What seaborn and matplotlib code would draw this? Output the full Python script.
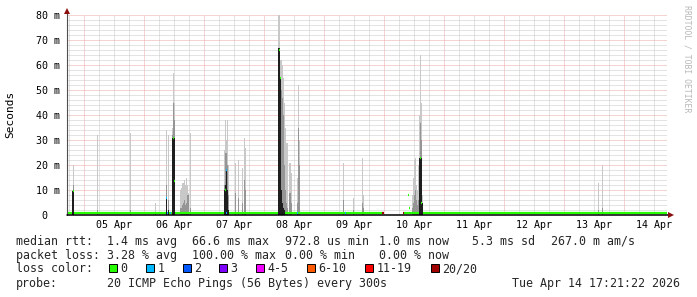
import numpy as np
import pandas as pd
import matplotlib
matplotlib.use("Agg")
import matplotlib.pyplot as plt
import matplotlib.dates as mdates
from matplotlib.patches import Rectangle
from matplotlib.lines import Line2D
import seaborn as sns

# ---------------- data ----------------
range_start = "2026-04-04 17:21"
range_end = "2026-04-14 17:21"
step_minutes = 24  # one consolidated rrd step

smoke_times = [
    "2026-04-04 19:21", "2026-04-04 19:45",
    "2026-04-05 05:21", "2026-04-05 18:33",
    "2026-04-06 04:33", "2026-04-06 08:57", "2026-04-06 09:45",
    "2026-04-06 11:21", "2026-04-06 11:45", "2026-04-06 12:09",
    "2026-04-06 14:33", "2026-04-06 14:57", "2026-04-06 15:21", "2026-04-06 15:45",
    "2026-04-06 16:09", "2026-04-06 16:33", "2026-04-06 16:57", "2026-04-06 17:21",
    "2026-04-06 17:45", "2026-04-06 18:33",
    "2026-04-07 08:09", "2026-04-07 08:33", "2026-04-07 08:57", "2026-04-07 09:21",
    "2026-04-07 09:45", "2026-04-07 12:33", "2026-04-07 13:45", "2026-04-07 15:21",
    "2026-04-07 16:09", "2026-04-07 16:33",
    "2026-04-08 05:45", "2026-04-08 06:09", "2026-04-08 06:33", "2026-04-08 06:57",
    "2026-04-08 07:21", "2026-04-08 07:45", "2026-04-08 08:09", "2026-04-08 08:33",
    "2026-04-08 08:57", "2026-04-08 09:21", "2026-04-08 10:09", "2026-04-08 10:33",
    "2026-04-08 10:57", "2026-04-08 13:21", "2026-04-08 13:45", "2026-04-08 14:09",
    "2026-04-09 07:45", "2026-04-09 11:45", "2026-04-09 15:21", "2026-04-09 15:45",
    "2026-04-10 09:09", "2026-04-10 09:33", "2026-04-10 09:57", "2026-04-10 10:21",
    "2026-04-10 11:21", "2026-04-10 11:45", "2026-04-10 12:09", "2026-04-10 12:33",
    "2026-04-10 12:57", "2026-04-10 13:21", "2026-04-10 13:45",
    "2026-04-10 14:09", "2026-04-10 14:33", "2026-04-10 14:57", "2026-04-10 15:21",
    "2026-04-13 13:45", "2026-04-13 15:21",
]
smoke_max = [
    10, 20,
    32, 33,
    5, 34, 32,
    35, 57, 45,
    10, 11, 13, 13,
    14, 12, 15, 12,
    9, 33,
    26, 38, 30, 38,
    20, 21, 22, 19,
    31, 27,
    80, 80, 62, 62,
    60, 55, 45, 35,
    29, 29, 21, 21,
    17, 15, 52, 30,
    21, 7, 23, 8,
    32, 15, 12, 5,
    8, 15, 22, 23,
    12, 10, 20,
    40, 64, 45, 8,
    13, 20,
]
smoke_mid = [
    9.6, 12,
    2, 2,
    1, 12, 6,
    32, 45, 38,
    3, 3, 4, 5,
    6, 4, 5, 8,
    8, 3,
    12, 25, 25, 20,
    8, 9, 7, 5,
    14, 10,
    67, 67, 55, 50,
    47, 40, 20, 10,
    5, 3, 9, 9,
    5, 5, 35, 20,
    6, 2, 5, 3,
    8, 12, 8, 5,
    3, 5, 8, 10,
    6, 4, 6,
    23, 37, 30, 5,
    2, 3,
]
smoke_dark = [
    9.6, 9.6,
    0, 0,
    0, 7, 2,
    31, 31, 31,
    0, 0, 0, 0,
    0, 0, 0, 0,
    0, 0,
    10, 12, 18, 10,
    2, 0, 0, 0,
    0, 0,
    67, 67, 55, 10,
    5, 3, 2, 0,
    0, 0, 0, 0,
    0, 0, 0, 0,
    0, 0, 0, 0,
    3, 7, 7, 3,
    0, 0, 0, 0,
    0, 0, 0,
    23, 23, 23, 5,
    0, 0,
]

baseline_segment_starts = ["2026-04-04 17:21", "2026-04-10 07:57"]
baseline_segment_ends = ["2026-04-09 23:21", "2026-04-14 17:21"]
baseline_rtt = 1.0

median_times = [
    "2026-04-04 19:45", "2026-04-06 08:57", "2026-04-06 09:21", "2026-04-06 10:33",
    "2026-04-06 11:45", "2026-04-06 12:09", "2026-04-07 08:33", "2026-04-07 08:57",
    "2026-04-07 08:57", "2026-04-08 06:09", "2026-04-08 06:33", "2026-04-08 13:21",
    "2026-04-09 08:33", "2026-04-09 23:21", "2026-04-09 23:45", "2026-04-10 07:33",
    "2026-04-10 09:33", "2026-04-10 09:57", "2026-04-10 14:33", "2026-04-10 14:57",
]
median_vals = [
    9.6, 7.0, 1.0, 1.0,
    31, 13.6, 10, 18,
    1.0, 66, 55, 1.0,
    1.0, 1.0, 1.0, 1.0,
    8, 3, 23, 5,
]
median_loss = [
    0, 1, 1, 1,
    0, 0, 0, 1,
    1, 0, 0, 1,
    1, 7, 7, 7,
    0, 0, 0, 0,
]

loss_labels = ["0", "1", "2", "3", "4-5", "6-10", "11-19", "20/20"]
loss_colors = ["#26ff00", "#00b8ff", "#0059ff", "#7e00ff", "#f000ff",
               "#ff5a00", "#ff0000", "#a10000"]

day_ticks = ["2026-04-%02d" % d for d in range(5, 15)]
day_labels = ["05 Apr", "06 Apr", "07 Apr", "08 Apr", "09 Apr",
              "10 Apr", "11 Apr", "12 Apr", "13 Apr", "14 Apr"]
y_ticks = [0, 10, 20, 30, 40, 50, 60, 70, 80]
y_labels = ["0  ", "10 m", "20 m", "30 m", "40 m", "50 m", "60 m", "70 m", "80 m"]
y_label = "Seconds"

stats_rtt = ["median rtt:", "1.4 ms avg", "66.6 ms max", "972.8 us min",
             "1.0 ms now", "5.3 ms sd", "267.0 m am/s"]
stats_loss = ["packet loss:", "3.28 % avg", "100.00 % max", "0.00 % min", "0.00 % now"]
probe_text = ["probe:", "20 ICMP Echo Pings (56 Bytes) every 300s"]
timestamp = "Tue Apr 14 17:21:22 2026"
watermark = "RRDTOOL / TOBI OETIKER"

# ---------------- style ----------------
sns.set_style("white")
plt.rcParams["font.family"] = ["DejaVu Sans Mono", "DejaVu Sans"]

W, H = 697, 297
fig = plt.figure(figsize=(W / 100, H / 100), dpi=100)
fig.patch.set_facecolor("white")

def fx(x):
    return x / W

def fy(y):
    return 1 - y / H

ax = fig.add_axes([fx(67), fy(215), 600 / W, 200 / H])
ax.set_facecolor("white")

t0 = mdates.date2num(pd.Timestamp(range_start))
t1 = mdates.date2num(pd.Timestamp(range_end))
step = step_minutes / 1440.0

st = mdates.date2num(pd.to_datetime(smoke_times))
ax.bar(st, smoke_max, width=step, align="edge", color="#c8c8c8", linewidth=0, zorder=2)
ax.bar(st, smoke_mid, width=step, align="edge", color="#959595", linewidth=0, zorder=3)

# median baseline (green, loss 0)
rows = []
for i, (a, b) in enumerate(zip(baseline_segment_starts, baseline_segment_ends)):
    rows.append({"time": pd.Timestamp(a), "ms": baseline_rtt, "seg": i})
    rows.append({"time": pd.Timestamp(b), "ms": baseline_rtt, "seg": i})
base_df = pd.DataFrame(rows)
sns.lineplot(data=base_df, x="time", y="ms", units="seg", estimator=None,
             color=loss_colors[0], lw=1.6, ax=ax, legend=False, zorder=4)

ax.bar(st, smoke_dark, width=step, align="edge", color="#1e1e1e", linewidth=0, zorder=5)

mt = mdates.date2num(pd.to_datetime(median_times))
ax.hlines(median_vals, mt, mt + step, colors=[loss_colors[k] for k in median_loss],
          lw=1.6, zorder=6)

ax.set_xlim(t0, t1)
ax.set_ylim(0, 80)
ax.set_xlabel("")
ax.set_ylabel("")

# grid
ax.set_xticks(mdates.date2num(pd.to_datetime(day_ticks)))
ax.xaxis.set_minor_locator(mdates.HourLocator(byhour=[6, 12, 18]))
ax.set_xticklabels([])
ax.set_yticks(y_ticks, y_labels)
ax.set_yticks([v for v in range(0, 81, 2) if v % 10], minor=True)
ax.grid(which="minor", color="#c8c8c8", lw=0.72, ls=(0, (1, 1)), zorder=0)
ax.grid(which="major", color="#eaa8a8", lw=0.72, ls=(0, (1, 1)), zorder=1)
ax.set_axisbelow(True)
ax.tick_params(axis="y", which="major", length=1.5, width=0.7, color="#666666",
               pad=3.6, labelsize=7.2, labelcolor="#000000")
ax.tick_params(axis="y", which="minor", length=0)
ax.tick_params(axis="x", which="major", length=1.8, width=0.7, color="#888888")
ax.tick_params(axis="x", which="minor", length=1.2, width=0.7, color="#aaaaaa")
for s in ax.spines.values():
    s.set_visible(False)

# axes lines with arrows
ax.add_line(Line2D([0, 0], [0, 1.02], transform=ax.transAxes, color="#505050",
                   lw=0.8, clip_on=False, zorder=7))
ax.add_line(Line2D([0, 1.004], [0, 0], transform=ax.transAxes, color="#000000",
                   lw=1.1, clip_on=False, zorder=7))
ax.plot([0], [1.018], marker="^", ms=3.8, color="#8b0e0e", transform=ax.transAxes,
        clip_on=False, zorder=8, mew=0)
ax.plot([1.006], [0], marker=">", ms=3.8, color="#8b0e0e", transform=ax.transAxes,
        clip_on=False, zorder=8, mew=0)

# x tick labels at noon
noon = mdates.date2num(pd.to_datetime(day_ticks)) + 0.5
for xv, lab in zip(noon, day_labels):
    ax.text(xv, -0.065, lab, transform=ax.get_xaxis_transform(), ha="center",
            va="baseline", fontsize=7.2, color="#000000")

# y axis title and watermark
fig.text(fx(10.5), fy(114), y_label, rotation=90, ha="center", va="center",
         fontsize=8.0, color="#000000")
fig.text(fx(687.5), fy(59), watermark, rotation=-90, ha="center", va="center",
         fontsize=5.9, color="#b8b8b8")

# footer
fs = 8.4
for x, s in zip([16, 107, 192, 285, 379, 472, 551], stats_rtt):
    fig.text(fx(x), fy(245), s, ha="left", va="baseline", fontsize=fs)
for x, s in zip([16, 107, 192, 285, 379], stats_loss):
    fig.text(fx(x), fy(258.7), s, ha="left", va="baseline", fontsize=fs)
fig.text(fx(16), fy(272.3), "loss color:", ha="left", va="baseline", fontsize=fs)
for x, lab, col in zip([109, 146, 183, 219, 256, 307, 365, 431], loss_labels, loss_colors):
    fig.patches.append(Rectangle((fx(x), fy(272)), 8 / W, 8 / H, transform=fig.transFigure,
                                 facecolor=col, edgecolor="#000000", lw=0.7))
    fig.text(fx(x + 11.5), fy(272.3), lab, ha="left", va="baseline", fontsize=fs)
fig.text(fx(16), fy(286.5), probe_text[0], ha="left", va="baseline", fontsize=fs)
fig.text(fx(107), fy(286.5), probe_text[1], ha="left", va="baseline", fontsize=fs)
fig.text(fx(680), fy(286.5), timestamp, ha="right", va="baseline", fontsize=fs)

fig.savefig("out.png", dpi=100, facecolor="white")
